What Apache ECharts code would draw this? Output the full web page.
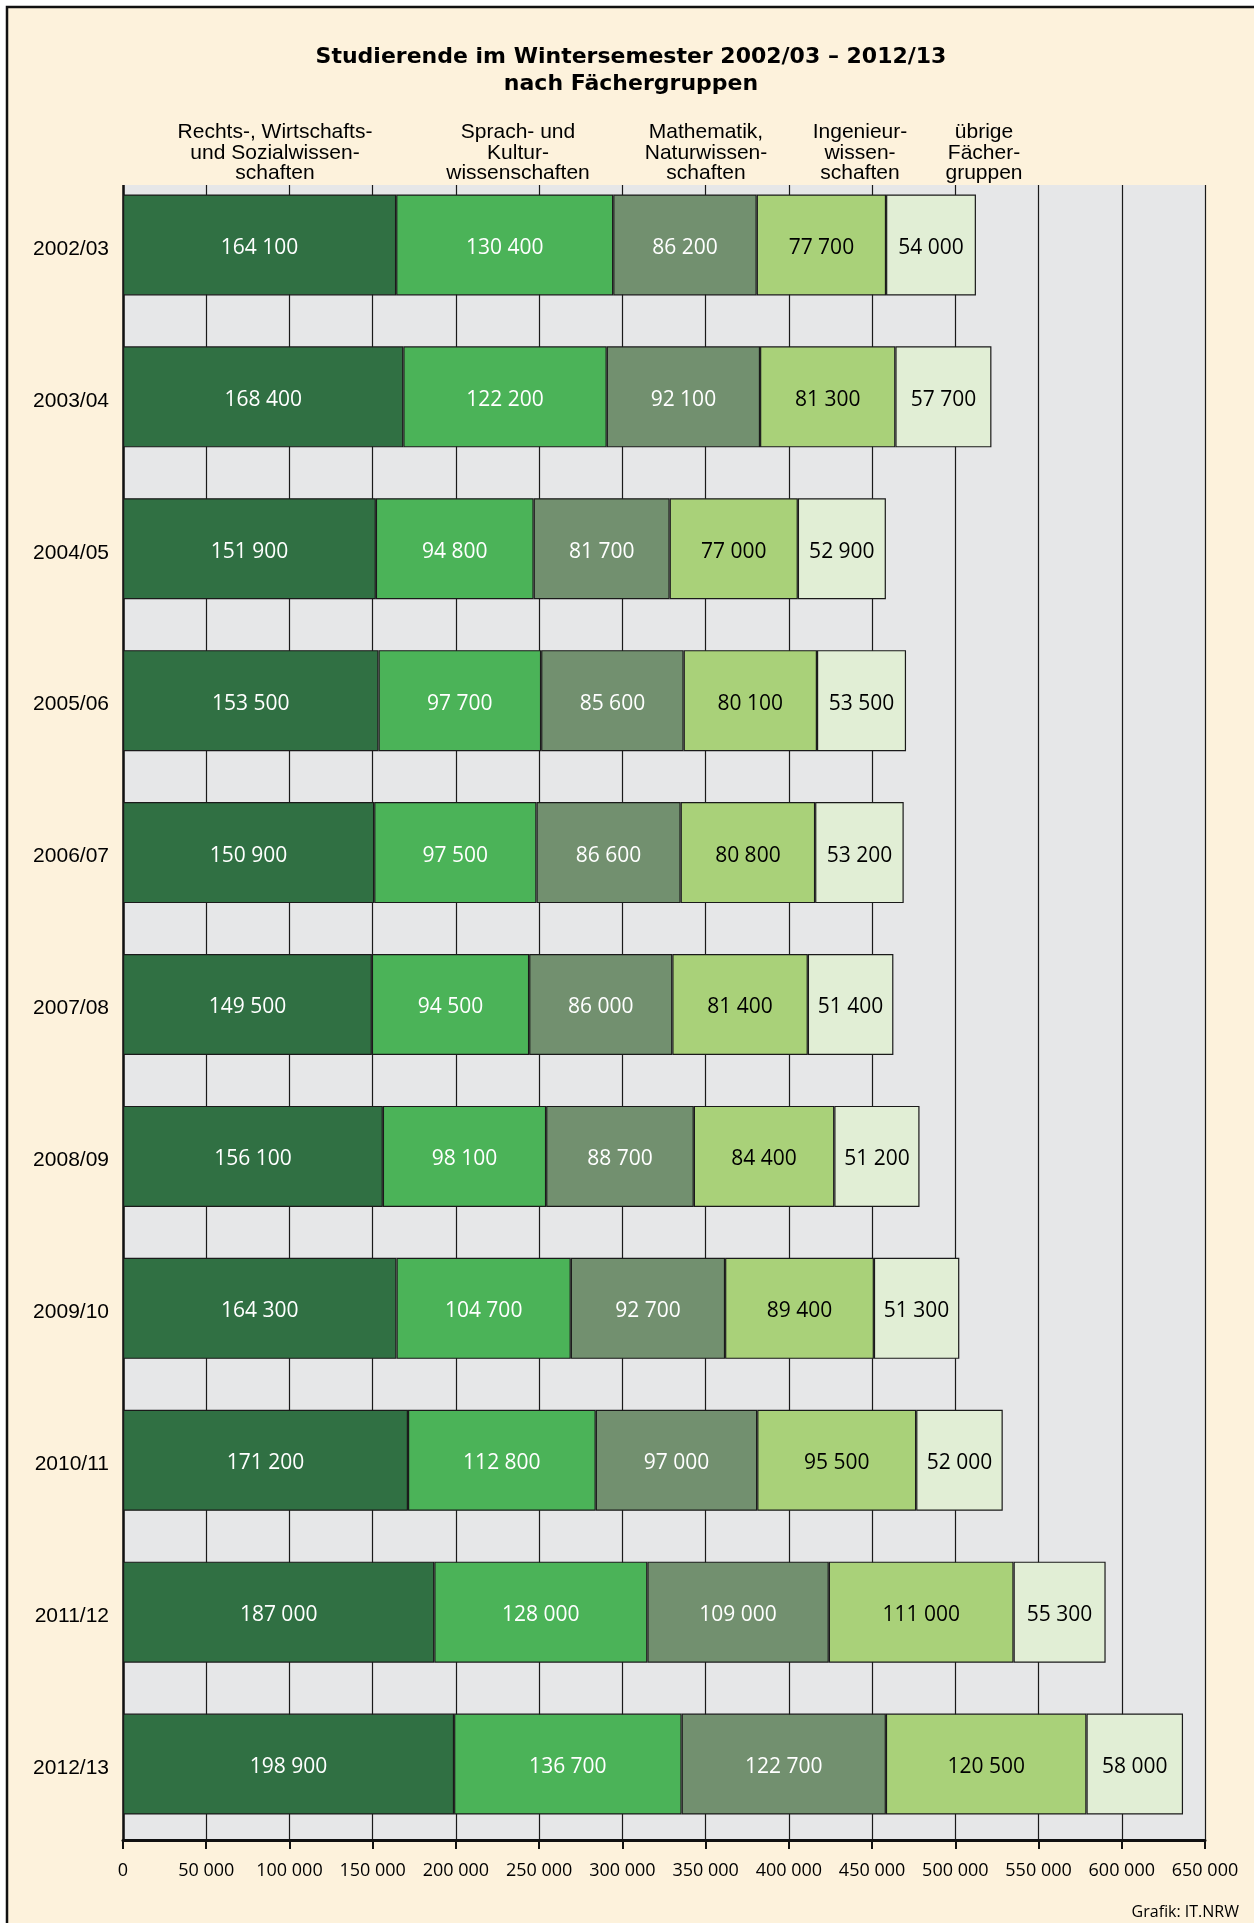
<!DOCTYPE html>
<html>
<head>
<meta charset="utf-8">
<script src="https://cdn.jsdelivr.net/npm/echarts@6/dist/echarts.min.js"></script>
<style>
html,body{margin:0;padding:0;background:#fff;}
#main{width:1254px;height:1923px;}
</style>
</head>
<body>
<div id="main"></div>
<script>
const years = ['2002/03','2003/04','2004/05','2005/06','2006/07','2007/08','2008/09','2009/10','2010/11','2011/12','2012/13'];
const groupNames = ['Rechts-, Wirtschafts- und Sozialwissenschaften','Sprach- und Kulturwissenschaften','Mathematik, Naturwissenschaften','Ingenieurwissenschaften','übrige Fächergruppen'];
const headerLabels = ['Rechts-, Wirtschafts-\nund Sozialwissen-\nschaften','Sprach- und\nKultur-\nwissenschaften','Mathematik,\nNaturwissen-\nschaften','Ingenieur-\nwissen-\nschaften','übrige\nFächer-\ngruppen'];
const rechtsWiSo = [164100,168400,151900,153500,150900,149500,156100,164300,171200,187000,198900];
const sprachKultur = [130400,122200,94800,97700,97500,94500,98100,104700,112800,128000,136700];
const matheNatur = [86200,92100,81700,85600,86600,86000,88700,92700,97000,109000,122700];
const ingenieur = [77700,81300,77000,80100,80800,81400,84400,89400,95500,111000,120500];
const uebrige = [54000,57700,52900,53500,53200,51400,51200,51300,52000,55300,58000];
const xTicks = {min:0, max:650000, interval:50000};

const seriesData = [rechtsWiSo, sprachKultur, matheNatur, ingenieur, uebrige];
const colors = ['#307043','#4BB358','#72906F','#A9D179','#E1EED5'];
const labelColors = ['#fff','#fff','#fff','#000','#000'];
const headerX = [275, 518, 706, 860, 984];

function fmt(v){
  return String(v).replace(/\B(?=(\d{3})+(?!\d))/g, ' ');
}

const chart = echarts.init(document.getElementById('main'), null, {renderer:'canvas'});

const series = seriesData.map((d, i) => ({
  name: groupNames[i],
  type: 'bar',
  stack: 'total',
  data: d,
  barWidth: '66.5%',
  itemStyle: {color: colors[i], borderColor: '#1a1a1a', borderWidth: 1.2},
  label: {
    show: true,
    position: 'inside',
    offset: [0, 3],
    formatter: p => fmt(p.value),
    color: labelColors[i],
    fontFamily: '"Open Sans", "Noto Sans", sans-serif',
    fontSize: 21
  },
  emphasis: {disabled: true},
  silent: true
}));

const graphics = [
  {type:'rect', z:-100, shape:{x:7, y:7, width:1400, height:2100},
   style:{fill:'#FDF2DC', stroke:'#111', lineWidth:2.5}},
  {type:'rect', z:50, shape:{x:118, y:150, width:1092, height:35},
   style:{fill:'#FDF2DC'}},
  {type:'text', z:60, style:{text:'Studierende im Wintersemester 2002/03 – 2012/13', x:631, y:57,
    align:'center', verticalAlign:'middle', fontFamily:'"DejaVu Sans", sans-serif', fontWeight:'bold', fontSize:22, fill:'#000'}},
  {type:'text', z:60, style:{text:'nach Fächergruppen', x:631, y:84,
    align:'center', verticalAlign:'middle', fontFamily:'"DejaVu Sans", sans-serif', fontWeight:'bold', fontSize:22, fill:'#000'}},
  {type:'text', z:60, style:{text:'Grafik: IT.NRW', x:1239, y:1912,
    align:'right', verticalAlign:'middle', fontFamily:'"Open Sans", sans-serif', fontSize:16, fill:'#000'}}
];
headerLabels.forEach((t, i) => {
  graphics.push({type:'text', z:60, style:{text:t, x:headerX[i], y:153,
    align:'center', verticalAlign:'middle', fontFamily:'"Liberation Sans", Arial, sans-serif', fontSize:21, lineHeight:20.5, fill:'#000'}});
});

chart.setOption({
  backgroundColor: '#ffffff',
  animation: false,
  grid: {left:123, right:49, top:169, bottom:83, show:true, backgroundColor:'#E6E7E8', borderWidth:0},
  xAxis: {
    type:'value', min:xTicks.min, max:xTicks.max, interval:xTicks.interval,
    axisLine:{show:true, lineStyle:{color:'#111', width:3}},
    axisTick:{show:true, length:9, lineStyle:{color:'#111', width:2}},
    axisLabel:{margin:22, color:'#000', fontFamily:'"Open Sans", "Noto Sans", sans-serif', fontSize:18,
      formatter: v => fmt(v)},
    splitLine:{show:true, lineStyle:{color:'#1a1a1a', width:1.2}}
  },
  yAxis: {
    type:'category', data:years, inverse:true,
    axisLine:{show:true, lineStyle:{color:'#111', width:2.5}},
    axisTick:{show:false},
    axisLabel:{margin:14, color:'#000',
      formatter: v => '{y|' + v + '}',
      rich:{y:{fontFamily:'"Liberation Sans", Arial, sans-serif', fontSize:21, color:'#000', padding:[8,0,0,0]}}},
    splitLine:{show:false}
  },
  graphic: graphics,
  series: series
});
</script>
</body>
</html>
